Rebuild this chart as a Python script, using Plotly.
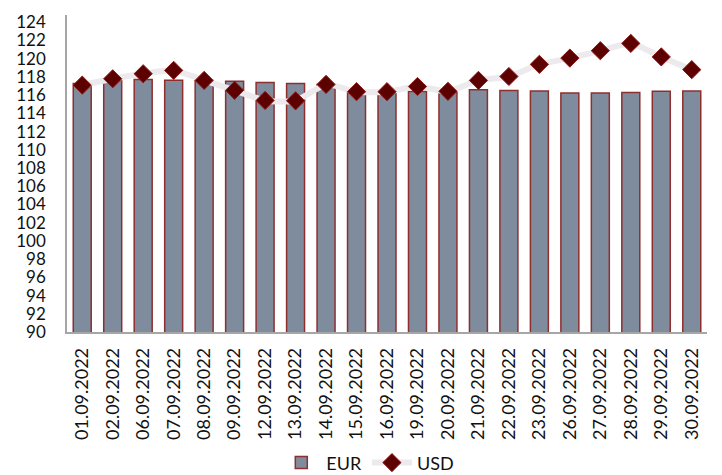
import plotly.graph_objects as go

dates = ["01.09.2022", "02.09.2022", "06.09.2022", "07.09.2022", "08.09.2022",
         "09.09.2022", "12.09.2022", "13.09.2022", "14.09.2022", "15.09.2022",
         "16.09.2022", "19.09.2022", "20.09.2022", "21.09.2022", "22.09.2022",
         "23.09.2022", "26.09.2022", "27.09.2022", "28.09.2022", "29.09.2022",
         "30.09.2022"]
eur = [117.27, 117.65, 117.71, 117.64, 117.6, 117.53, 117.38, 117.27, 117.16,
       116.43, 116.43, 116.4, 116.35, 116.6, 116.5, 116.47, 116.25, 116.25,
       116.29, 116.43, 116.47]
usd = [117.1, 117.8, 118.35, 118.72, 117.62, 116.53, 115.42, 115.38, 117.18,
       116.38, 116.38, 116.95, 116.42, 117.62, 118.05, 119.38, 120.07, 120.88,
       121.68, 120.2, 118.8]
yticks = list(range(90, 125, 2))

FONT = "Lato"

fig = go.Figure()
fig.add_trace(go.Bar(
    x=dates, y=eur, name="EUR",
    marker=dict(color="#7F8C9D", line=dict(color="#8E2F2F", width=1.5)),
))
fig.add_trace(go.Scatter(
    x=dates, y=usd, name="USD", mode="lines+markers",
    line=dict(color="#EDEAEE", width=6, shape="spline", smoothing=0.6),
    marker=dict(symbol="diamond", size=14, color="#5C0000",
                line=dict(color="#8E1A1A", width=1)),
))

fig.update_layout(
    width=722, height=475,
    margin=dict(l=67, r=15, t=15, b=143, autoexpand=False),
    paper_bgcolor="white", plot_bgcolor="white",
    bargap=0.41,
    font=dict(family=FONT, size=17, color="#111111"),
    showlegend=True,
    legend=dict(orientation="h", x=0.47, xanchor="center", y=-0.413,
                yanchor="middle", font=dict(family=FONT, size=18),
                itemwidth=40, traceorder="normal"),
    xaxis=dict(
        type="category", tickangle=-90, showgrid=False, automargin=False,
        range=[-0.5, len(dates) - 0.5],
        showline=True, linecolor="#A6A6A6", linewidth=1.5,
        ticks="", ticklabelstandoff=7,
        tickfont=dict(family=FONT, size=18),
    ),
    yaxis=dict(
        range=[90, 124.8], tickvals=yticks, ticktext=[str(v) for v in yticks],
        showgrid=False, zeroline=False, automargin=False,
        showline=True, linecolor="#A6A6A6", linewidth=1.5,
        ticks="", ticklabelstandoff=16,
        tickfont=dict(family=FONT, size=17),
    ),
)

fig.write_html("out.html", config={"displayModeBar": False},
               post_script="document.body.style.margin='0';")
